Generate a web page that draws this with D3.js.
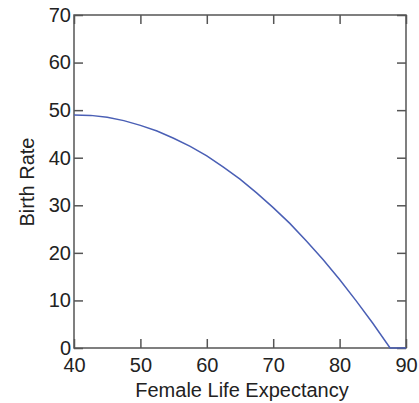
<!DOCTYPE html>
<html><head><meta charset="utf-8">
<script src="https://cdn.jsdelivr.net/npm/d3@7"></script>
<style>body{margin:0;background:#fff}text{font-family:"Liberation Sans",Arial,sans-serif}</style>
</head><body><svg id="c" width="419" height="403"></svg>
<script>
const lifeExp = [40,42.5,45,47.5,50,52.5,55,57.5,60,62.5,65,67.5,70,72.5,75,77.5,80,82.5,85,87.6,90];
const birthRate = [49.0,48.9,48.5,47.8,46.8,45.6,44.1,42.4,40.4,38.0,35.5,32.6,29.5,26.2,22.5,18.6,14.4,9.9,5.2,0.0,0.0];
const xTicks = [40,50,60,70,80,90];
const yTicks = [0,10,20,30,40,50,60,70];

const svg = d3.select("#c");
const L=74,R=406,T=15,B=348;
const x = d3.scaleLinear().domain([40,90]).range([L,R]);
const y = d3.scaleLinear().domain([0,70]).range([B,T]);
const frame="#555";

const fmt = d3.format("d");
const ax = (gen, tr) => svg.append("g").attr("transform",tr).call(gen);
const style = g => { g.select(".domain").remove(); g.selectAll("line").attr("stroke",frame).attr("stroke-width",1.5);
  g.selectAll("text").attr("font-size",20).attr("fill","#222"); };

ax(d3.axisBottom(x).tickValues(xTicks).tickFormat(fmt).tickSizeInner(-9).tickPadding(10),`translate(0,${B})`).call(style);
ax(d3.axisTop(x).tickValues(xTicks).tickFormat("").tickSizeInner(-9),`translate(0,${T})`).call(style);
ax(d3.axisLeft(y).tickValues(yTicks).tickFormat(fmt).tickSizeInner(-9).tickPadding(3),`translate(${L},0)`).call(style);
ax(d3.axisRight(y).tickValues(yTicks).tickFormat("").tickSizeInner(-9),`translate(${R},0)`).call(style);

svg.append("rect").attr("x",L).attr("y",T).attr("width",R-L).attr("height",B-T)
  .attr("fill","none").attr("stroke",frame).attr("stroke-width",1.5);

const line = d3.line().x((d,i)=>x(lifeExp[i])).y(d=>y(d));
svg.append("path").datum(birthRate).attr("d",line).attr("fill","none")
  .attr("stroke","#4a5fb5").attr("stroke-width",1.5);

svg.append("text").attr("x",242).attr("y",397).attr("text-anchor","middle")
  .attr("font-size",20).attr("fill","#222").text("Female Life Expectancy");
svg.append("text").attr("transform",`translate(34,182) rotate(-90)`).attr("text-anchor","middle")
  .attr("font-size",20).attr("fill","#222").text("Birth Rate");
</script></body></html>
